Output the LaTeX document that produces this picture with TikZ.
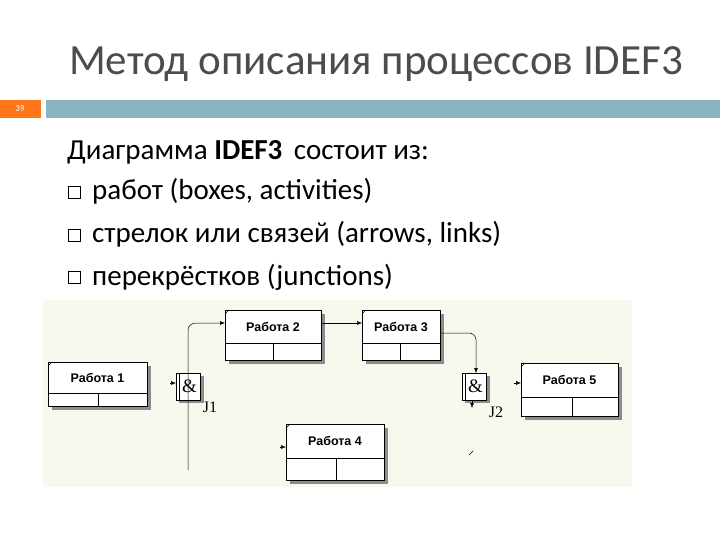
\documentclass[tikz,border=0pt]{standalone}
\usepackage{fontspec}
\usetikzlibrary{arrows.meta}
\setmainfont{Carlito}
\newfontfamily\arialf{Liberation Sans}
\newfontfamily\timesf{Liberation Serif}
\begin{document}
\begin{tikzpicture}[x=1pt,y=-1pt,
  wbox/.style={draw=black,line width=0.6pt},
  shad/.style={fill=black!45},
  arr/.style={-{Latex[length=5pt,width=4pt]},line width=0.5pt},
  lbl/.style={font=\arialf\bfseries\fontsize{12.5}{13}\selectfont,inner sep=0pt}]
\useasboundingbox (0,0) rectangle (720,540);
\fill[white] (0,0) rectangle (720,540);
\node[text=black!70, font=\fontsize{43}{48}\selectfont, anchor=base] (title) at (376,75) {Метод описания процессов IDEF3};
\fill[orange!80!red!90!white] (0,100) rectangle (41,118);
\node[text=white,font=\fontsize{9}{10}\selectfont] (num) at (20,109) {39};
\fill[blue!25!cyan!30!gray!70] (46,100) rectangle (720,118);
\node[anchor=base west,font=\fontsize{29}{32}\selectfont,inner sep=0pt] (l0) at (67,160) {Диаграмма \textbf{IDEF3}\, состоит из:};
\foreach \yy/\tt [count=\i] in {200/работ (boxes{,} activities),243/стрелок или связей (arrows{,} links),285/перекрёстков (junctions)}{
  \draw[line width=0.5pt] (68,\yy-14) rectangle (80,\yy-2);
  \node[anchor=base west,font=\fontsize{29}{32}\selectfont,inner sep=0pt] (b\i) at (92,\yy) {\tt};
}
\fill[yellow!4!white!97!black] (43,300) rectangle (632,487);
% boxes
\foreach \n/\xa/\ya/\xb/\yb/\dy/\dx/\t in {
  w1/48/362/147/406/393/98/Работа 1,
  w2/225/310/321/360/343/273/Работа 2,
  w3/362/310/440/360/343/400/Работа 3,
  w5/521/363/618/416/397/572/Работа 5,
  w4/286/424/384/480/458/336/Работа 4}{
  \fill[shad] (\xa+4,\yb) rectangle (\xb+4,\yb+4);
  \fill[shad] (\xb,\ya+4) rectangle (\xb+4,\yb+4);
  \fill[white] (\xa,\ya) rectangle (\xb,\yb);
  \draw[wbox] (\xa,\ya) rectangle (\xb,\yb);
  \draw[line width=0.6pt] (\xa,\dy) -- (\xb,\dy) (\dx,\dy) -- (\dx,\yb);
  \draw[line width=0.6pt] (\xa,\ya+4) -- (\xa+4,\ya);
  \node[lbl] (\n) at ({(\xa+\xb)/2},{(\ya+\dy)/2}) {\t};
}
% junctions
\foreach \n/\xa/\lx/\ly/\t in {j1/176/210/407/J1, j2/462/496/412/J2}{
  \fill[shad] (\xa+3,400) rectangle (\xa+28,403);
  \fill[shad] (\xa+24,376) rectangle (\xa+28,403);
  \fill[white] (\xa,373) rectangle (\xa+24,400);
  \draw[line width=0.6pt] (\xa,373) rectangle (\xa+24,400);
  \draw[line width=0.6pt] (\xa+3,373) -- (\xa+3,400);
  \node[font=\timesf\fontsize{19}{19}\selectfont,inner sep=0pt] (\n) at (\xa+13.5,386) {\&};
  \node[font=\timesf\fontsize{16}{16}\selectfont,inner sep=0pt] (\n l) at (\lx,\ly) {\t};
}
\draw[arr] (170,383) -- (176,383);
\coordinate (c1b) at (188,470);
\draw[arr] (c1b) -- (188,330) to[out=90,in=180] (196,323) -- (225,323);
\draw[arr] (321,323) -- (362,323);
\draw[arr] (440,333) -- (469,333) to[out=0,in=90] (476,340) -- (476,373);
\draw[arr] (514,383) -- (521,383);
\draw[arr] (280,447) -- (286,447);
\draw[arr] (472,400) -- (472,408);
\draw[line width=0.4pt] (469,455) -- (473,451);
\end{tikzpicture}
\end{document}
